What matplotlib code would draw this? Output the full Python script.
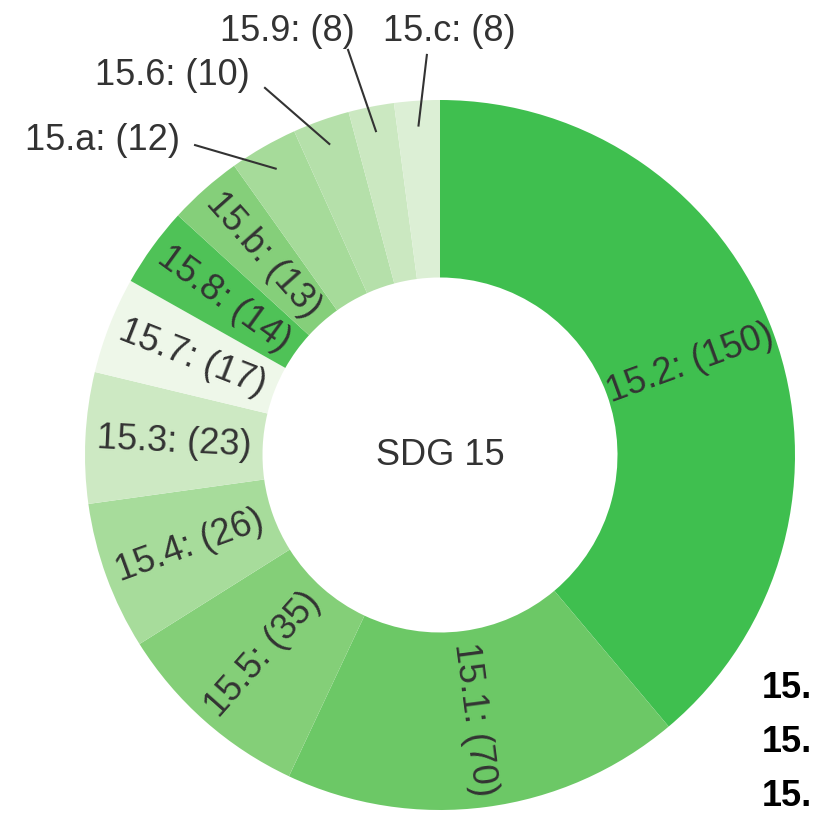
import numpy as np
import matplotlib
matplotlib.use("Agg")
import matplotlib.pyplot as plt

labels = ["15.2", "15.1", "15.5", "15.4", "15.3", "15.7", "15.8", "15.b", "15.a", "15.6", "15.9", "15.c"]
values = [150, 70, 35, 26, 23, 17, 14, 13, 12, 10, 8, 8]
colors = ["#3fbf4f", "#6cc866", "#84cf78", "#a7dc9b", "#cde9c3", "#eef7e9",
          "#4fc257", "#85cf7a", "#a6db9a", "#b5e0aa", "#cbe8c1", "#dcefd5"]
outside = {"15.a": (-0.690, 0.873, -0.732, 0.887, "right"),
           "15.6": (-0.493, 1.034, -0.535, 1.070, "right"),
           "15.9": (-0.259, 1.141, -0.431, 1.192, "center"),
           "15.c": (-0.037, 1.127, 0.025, 1.192, "center")}
side_texts = ["15.", "15.", "15."]

plt.rcParams["font.family"] = ["Liberation Sans", "DejaVu Sans"]
W, H = 815, 814
fig = plt.figure(figsize=(W / 100, H / 100), dpi=100)
ax = fig.add_axes([0, 0, 1, 1])
R = 355.0
cx, cy = 440.0, 455.0

wedges, _ = ax.pie(values, colors=colors, startangle=90, counterclock=False,
                   radius=1.0, wedgeprops=dict(width=0.5, edgecolor="none"))
ax.set_xlim(-cx / R, (W - cx) / R)
ax.set_ylim(-(H - cy) / R, cy / R)
ax.set_aspect("auto")
ax.axis("off")

tc = "#333333"
fs = 26
for w, lab, v in zip(wedges, labels, values):
    mid = np.deg2rad((w.theta1 + w.theta2) / 2)
    txt = f"{lab}: ({v})"
    if lab in outside:
        x0, y0, tx, ty, ha = outside[lab]
        r = 0.93
        ax.plot([x0, r * np.cos(mid)], [y0, r * np.sin(mid)], color="#333333", lw=1.5)
        ax.text(tx, ty, txt, ha=ha, va="center", fontsize=fs, color=tc)
    else:
        r = 0.75
        rot = np.rad2deg(mid)
        while rot > 180:
            rot -= 360
        while rot < -180:
            rot += 360
        if rot > 90 or rot < -90:
            rot += 180
        ax.text(r * np.cos(mid), r * np.sin(mid), txt, ha="center", va="center",
                rotation=rot, rotation_mode="anchor", fontsize=fs, color=tc)

ax.text(0, 0, "SDG 15", ha="center", va="center", fontsize=fs, color=tc)

for yy, s in zip([688, 742, 797], side_texts):
    fig.text(762 / W, 1 - yy / H, s, ha="left", va="center", fontsize=26,
             fontweight="bold", color="black")

fig.savefig("out.png", dpi=100)
